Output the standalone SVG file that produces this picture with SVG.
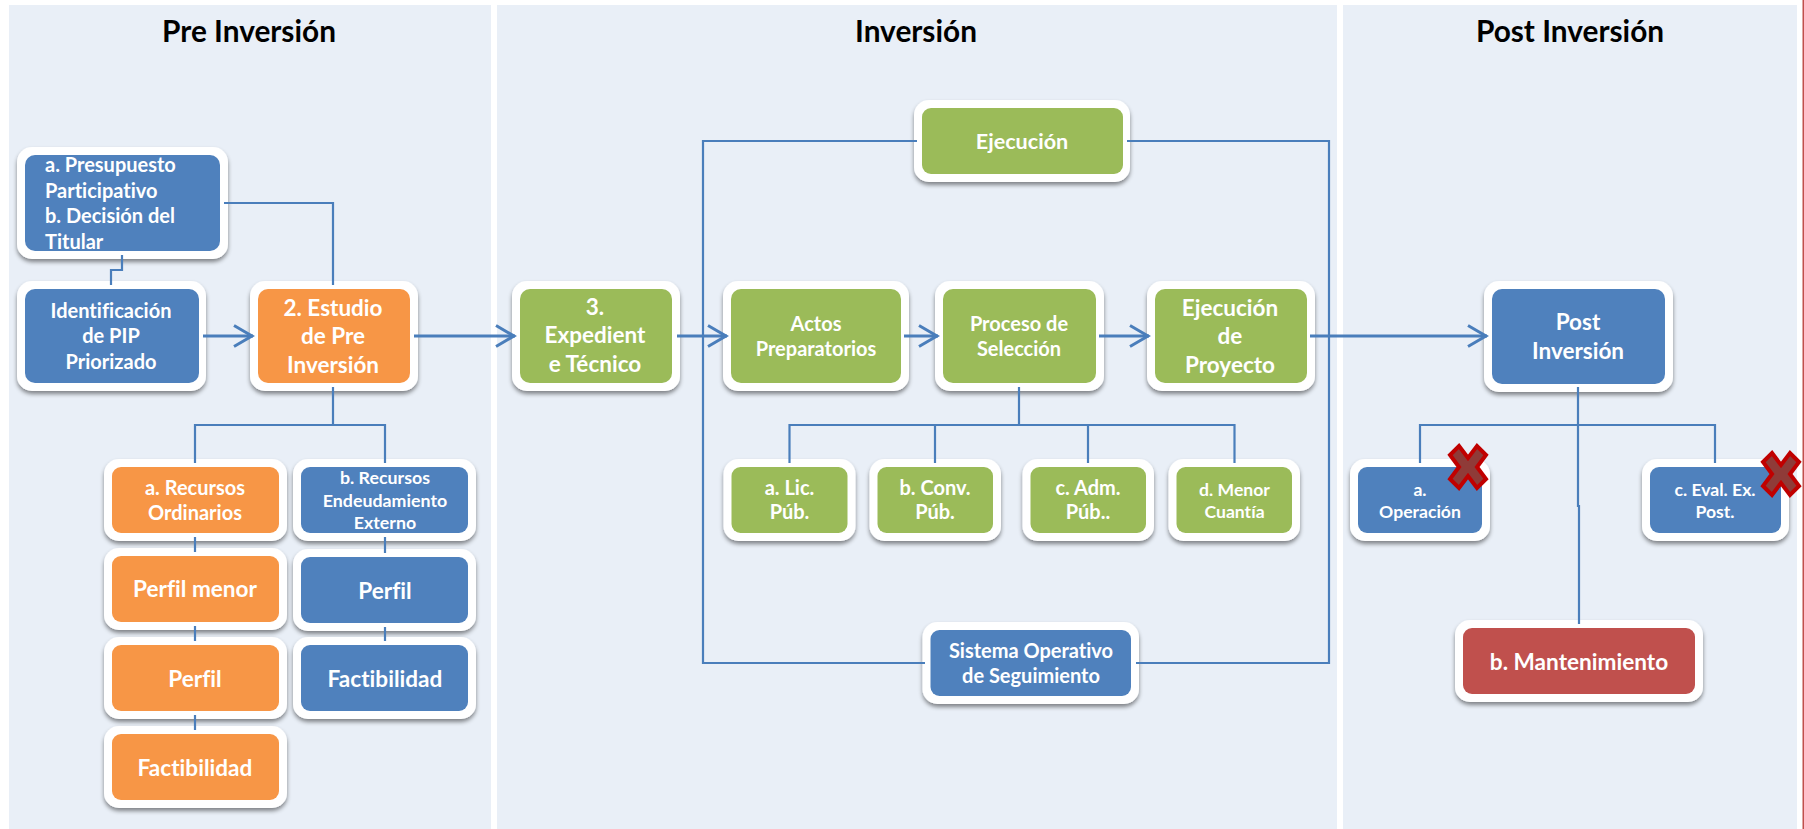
<svg xmlns="http://www.w3.org/2000/svg" width="1804" height="829" viewBox="0 0 1804 829">
<style>
.panel{fill:#e9eff7}
.o{fill:#fff;filter:url(#sh)}
.bl{fill:#4f81bd}.or{fill:#f79646}.gr{fill:#9bbb59}.rd{fill:#c0504d}
text{font-family:Lato,"Open Sans",Carlito,sans-serif;font-weight:700;fill:#fff;text-anchor:middle;font-variant-ligatures:none}
.title{fill:#000;font-size:29.8px}
.s16{font-size:17.8px}.s17{font-size:17.6px}.s18{font-size:20px}.s20{font-size:21.6px}.s21{font-size:22.5px}.s22{font-size:22.6px}
.l{text-anchor:start}
.c{fill:none;stroke:#4a7ebb;stroke-width:2.2}
.a{stroke-width:3}
.x{fill:#8f3b38;stroke:#c00000;stroke-width:4}
</style>
<defs>
<filter id="sh" x="-10%" y="-10%" width="120%" height="125%"><feDropShadow dx="0" dy="3" stdDeviation="2" flood-color="#000" flood-opacity="0.45"/></filter>
<marker id="ah" markerUnits="userSpaceOnUse" markerWidth="24" markerHeight="26" refX="21" refY="12" orient="auto" overflow="visible"><path d="M2,1.5 L20,12 L2,22.5" fill="none" stroke="#4a7ebb" stroke-width="3"/></marker>
<polygon id="cross" points="-9,-21 0,-9 9,-21 18,-12 9,0 18,12 9,21 0,9 -9,21 -18,12 -9,0 -18,-12"/>
</defs>
<rect width="1804" height="829" fill="#fff"/>
<g id="panels">
<rect class="panel" x="9" y="5" width="482" height="824"/>
<rect class="panel" x="497" y="5" width="840" height="824"/>
<rect class="panel" x="1343" y="5" width="454" height="824"/>
<rect x="1802.5" y="0" width="1.5" height="829" fill="#c0504d"/>
<text class="title" x="249" y="42">Pre Inversión</text>
<text class="title" x="916" y="42">Inversión</text>
<text class="title" x="1570" y="42">Post Inversión</text>
</g>
<g id="n-presupuesto"><rect class="o" x="17" y="147" width="211" height="112" rx="15"/><rect class="bl" x="25" y="155" width="195" height="96" rx="10"/>
<text class="s18 l" x="45" y="172">a. Presupuesto</text><text class="s18 l" x="45" y="198">Participativo</text><text class="s18 l" x="45" y="223">b. Decisión del</text><text class="s18 l" x="45" y="249">Titular</text></g>
<g id="n-identificacion"><rect class="o" x="17" y="281" width="189" height="110" rx="15"/><rect class="bl" x="25" y="289" width="174" height="94" rx="10"/>
<text class="s18" x="111" y="318">Identificación</text><text class="s18" x="111" y="343">de PIP</text><text class="s18" x="111" y="369">Priorizado</text></g>
<g id="n-estudio"><rect class="o" x="250" y="281" width="168" height="110" rx="15"/><rect class="or" x="258" y="289" width="152" height="94" rx="10"/>
<text class="s21" x="333" y="316">2. Estudio</text><text class="s21" x="333" y="344">de Pre</text><text class="s21" x="333" y="373">Inversión</text></g>
<g id="n-rec-a"><rect class="o" x="104" y="459" width="183" height="82" rx="15"/><rect class="or" x="112" y="467" width="167" height="66" rx="9"/>
<text class="s18" x="195" y="495">a. Recursos</text><text class="s18" x="195" y="520">Ordinarios</text></g>
<g id="n-perfil-menor"><rect class="o" x="104" y="548" width="183" height="82" rx="15"/><rect class="or" x="112" y="556" width="167" height="66" rx="9"/>
<text class="s22" x="195" y="597">Perfil menor</text></g>
<g id="n-perfil-o"><rect class="o" x="104" y="637" width="183" height="82" rx="15"/><rect class="or" x="112" y="645" width="167" height="66" rx="9"/>
<text class="s22" x="195" y="687">Perfil</text></g>
<g id="n-fact-o"><rect class="o" x="104" y="726" width="183" height="82" rx="15"/><rect class="or" x="112" y="734" width="167" height="66" rx="9"/>
<text class="s22" x="195" y="776">Factibilidad</text></g>
<g id="n-rec-b"><rect class="o" x="293" y="459" width="183" height="82" rx="15"/><rect class="bl" x="301" y="467" width="167" height="66" rx="9"/>
<text class="s16" x="385" y="484">b. Recursos</text><text class="s16" x="385" y="507">Endeudamiento</text><text class="s16" x="385" y="529">Externo</text></g>
<g id="n-perfil-b"><rect class="o" x="293" y="549" width="183" height="82" rx="15"/><rect class="bl" x="301" y="557" width="167" height="66" rx="9"/>
<text class="s22" x="385" y="599">Perfil</text></g>
<g id="n-fact-b"><rect class="o" x="293" y="637" width="183" height="82" rx="15"/><rect class="bl" x="301" y="645" width="167" height="66" rx="9"/>
<text class="s22" x="385" y="687">Factibilidad</text></g>
<g id="n-expediente"><rect class="o" x="512" y="281" width="168" height="110" rx="15"/><rect class="gr" x="520" y="289" width="152" height="94" rx="10"/>
<text class="s21" x="595" y="315">3.</text><text class="s21" x="595" y="343">Expedient</text><text class="s21" x="595" y="372">e Técnico</text></g>
<g id="n-actos"><rect class="o" x="723" y="281" width="186" height="110" rx="15"/><rect class="gr" x="731" y="289" width="170" height="94" rx="10"/>
<text class="s18" x="816" y="331">Actos</text><text class="s18" x="816" y="356">Preparatorios</text></g>
<g id="n-proceso"><rect class="o" x="935" y="281" width="169" height="110" rx="15"/><rect class="gr" x="943" y="289" width="153" height="94" rx="10"/>
<text class="s18" x="1019" y="331">Proceso de</text><text class="s18" x="1019" y="356">Selección</text></g>
<g id="n-proyecto"><rect class="o" x="1147" y="281" width="168" height="110" rx="15"/><rect class="gr" x="1155" y="289" width="152" height="94" rx="10"/>
<text class="s21" x="1230" y="316">Ejecución</text><text class="s21" x="1230" y="344">de</text><text class="s21" x="1230" y="373">Proyecto</text></g>
<g id="n-ejecucion"><rect class="o" x="914" y="100" width="216" height="82" rx="15"/><rect class="gr" x="922" y="108" width="201" height="66" rx="9"/>
<text class="s20" x="1022" y="149">Ejecución</text></g>
<g id="n-lic"><rect class="o" x="723.5" y="459" width="132" height="82" rx="15"/><rect class="gr" x="731.5" y="467" width="116" height="66" rx="9"/>
<text class="s18" x="789.5" y="495">a. Lic.</text><text class="s18" x="789.5" y="519">Púb.</text></g>
<g id="n-conv"><rect class="o" x="869.5" y="459" width="131.5" height="82" rx="15"/><rect class="gr" x="877.5" y="467" width="115.5" height="66" rx="9"/>
<text class="s18" x="935" y="495">b. Conv.</text><text class="s18" x="935" y="519">Púb.</text></g>
<g id="n-adm"><rect class="o" x="1022.5" y="459" width="131.5" height="82" rx="15"/><rect class="gr" x="1030.5" y="467" width="115.5" height="66" rx="9"/>
<text class="s18" x="1088" y="495">c. Adm.</text><text class="s18" x="1088" y="519">Púb..</text></g>
<g id="n-menor"><rect class="o" x="1168.5" y="459" width="131.5" height="82" rx="15"/><rect class="gr" x="1176.5" y="467" width="115.5" height="66" rx="9"/>
<text class="s17" x="1234.5" y="496">d. Menor</text><text class="s17" x="1234.5" y="518">Cuantía</text></g>
<g id="n-sistema"><rect class="o" x="922.5" y="622" width="216.5" height="82" rx="15"/><rect class="bl" x="930.5" y="630" width="200.5" height="66" rx="9"/>
<text class="s18" x="1031" y="658">Sistema Operativo</text><text class="s18" x="1031" y="683">de Seguimiento</text></g>
<g id="n-post"><rect class="o" x="1484" y="281" width="189" height="111" rx="15"/><rect class="bl" x="1492" y="289" width="173" height="95" rx="10"/>
<text class="s21" x="1578" y="330">Post</text><text class="s21" x="1578" y="359">Inversión</text></g>
<g id="n-operacion"><rect class="o" x="1350" y="459" width="140" height="82" rx="15"/><rect class="bl" x="1358" y="467" width="124" height="66" rx="9"/>
<text class="s17" x="1420" y="496">a.</text><text class="s17" x="1420" y="518">Operación</text></g>
<g id="n-eval"><rect class="o" x="1642" y="459" width="147" height="82" rx="15"/><rect class="bl" x="1650" y="467" width="131" height="66" rx="9"/>
<text class="s17" x="1715" y="496">c. Eval. Ex.</text><text class="s17" x="1715" y="518">Post.</text></g>
<g id="n-mant"><rect class="o" x="1455" y="620" width="248" height="82" rx="15"/><rect class="rd" x="1463" y="628" width="232" height="66" rx="9"/>
<text class="s22" x="1579" y="670">b. Mantenimiento</text></g>
<g id="connectors">
<path class="c" d="M224,203H333V285"/>
<path class="c" d="M122,255V270H111V285"/>
<path class="c a" marker-end="url(#ah)" d="M203,336H253"/>
<path class="c a" marker-end="url(#ah)" d="M414,336H515"/>
<path class="c a" marker-end="url(#ah)" d="M677,336H727"/>
<path class="c a" marker-end="url(#ah)" d="M904,336H938"/>
<path class="c a" marker-end="url(#ah)" d="M1099,336H1149"/>
<path class="c a" marker-end="url(#ah)" d="M1310,336H1487"/>
<path class="c" d="M333,387V425M195,463V425H385V463"/>
<path class="c" d="M195,537V552M195,626V641M195,715V730M385,537V553M385,627V641"/>
<path class="c" d="M917,141H703V663H925M1127,141H1329V663H1136"/>
<path class="c" d="M1019,387V425M789.5,463V425H1234.5V463M935,425V463M1088,425V463"/>
<path class="c" d="M1578,387V506H1579V624M1420,463V425H1715V463"/>
</g>
<g id="marks">
<use href="#cross" class="x" x="1468" y="467"/>
<use href="#cross" class="x" x="1781" y="474"/>
</g>
</svg>
